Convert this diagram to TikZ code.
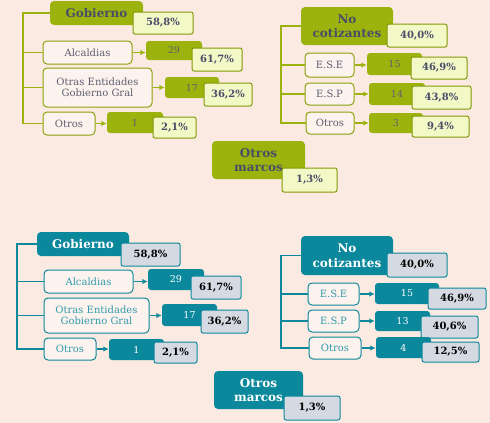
\documentclass[tikz,border=0pt]{standalone}
\usepackage{fontspec}
\setmainfont{DejaVu Serif}
\usetikzlibrary{arrows.meta}
\definecolor{bgpink}{HTML}{FBEAE1}
\definecolor{olivebox}{HTML}{9BB30C}
\definecolor{olivepale}{HTML}{F2F8C6}
\definecolor{slatetext}{HTML}{4A4D68}
\definecolor{graytext}{HTML}{5E5E70}
\definecolor{tealbox}{HTML}{0C889C}
\definecolor{tealpale}{HTML}{D5DAE2}
\definecolor{labelfill}{HTML}{FCF3EE}

\begin{document}
\begin{tikzpicture}[
  x=1pt, y=-1pt,
  ghead/.style={rounded corners=4pt,fill=olivebox,text=slatetext,align=center,inner sep=0pt,font=\fontsize{12}{14.5}\selectfont\bfseries},
  gpct/.style={rounded corners=2pt,draw=olivebox!85!black,line width=1pt,fill=olivepale,text=slatetext,inner sep=0pt,font=\fontsize{10}{11}\selectfont\bfseries},
  glabel/.style={rounded corners=4pt,draw=olivebox!90!black,line width=1pt,fill=labelfill,text=graytext,align=center,inner sep=0pt,font=\fontsize{10}{11.5}\selectfont},
  gnum/.style={rounded corners=3pt,fill=olivebox,text=graytext,inner sep=0pt,font=\fontsize{9.5}{10}\selectfont},
  glink/.style={draw=olivebox,line width=1.4pt},
  thead/.style={rounded corners=4pt,fill=tealbox,text=white,align=center,inner sep=0pt,font=\fontsize{12}{14.5}\selectfont\bfseries},
  tpct/.style={rounded corners=2pt,draw=tealbox,line width=1pt,fill=tealpale,text=black,inner sep=0pt,font=\fontsize{10}{11}\selectfont\bfseries},
  tlabel/.style={rounded corners=4pt,draw=tealbox,line width=1pt,fill=labelfill,text=tealbox!85!white,align=center,inner sep=0pt,font=\fontsize{10}{11.5}\selectfont},
  tnum/.style={rounded corners=3pt,fill=tealbox,text=white,inner sep=0pt,font=\fontsize{9.5}{10}\selectfont},
  tlink/.style={draw=tealbox,line width=1.4pt},
  tip/.style={-{Latex[length=5.5pt,width=5.5pt]}}
]
  \fill[bgpink] (0,0) rectangle (490,423);
  \useasboundingbox (0,0) rectangle (490,423);

  % olive panel, Gobierno
  \node[ghead,minimum width=93,minimum height=24] (gob) at (96.5,13) {Gobierno};
  \node[gpct,minimum width=60,minimum height=22] (gobp) at (163,23) {58,8\%};
  \node[glabel,minimum width=89,minimum height=23] (alc) at (87.5,52.5) {Alcaldias};
  \node[gnum,minimum width=56,minimum height=19] (alcn) at (174,50.5) {29};
  \node[gpct,minimum width=50,minimum height=23] (alcp) at (217,59.5) {61,7\%};
  \node[glabel,minimum width=109,minimum height=39] (ent) at (97.5,87.5) {Otras Entidades\\Gobierno Gral};
  \node[gnum,minimum width=54,minimum height=21] (entn) at (192,87.5) {17};
  \node[gpct,minimum width=48,minimum height=23] (entp) at (228,94.5) {36,2\%};
  \node[glabel,minimum width=52,minimum height=23] (oth) at (69,123.5) {Otros};
  \node[gnum,minimum width=56,minimum height=21] (othn) at (135,122.5) {1};
  \node[gpct,minimum width=43,minimum height=21] (othp) at (174.5,127.5) {2,1\%};
  \coordinate (gtr) at (23,123.5);
  \draw[glink] (gob.west) -| (gtr) -- (oth.west);
  \draw[glink] (alc.west) -- (alc.west -| gtr);
  \draw[glink] (ent.west) -- (ent.west -| gtr);
  \draw[glink,tip] (alc.east) -- (alc.east -| alcn.west);
  \draw[glink,tip] (ent.east) -- (ent.east -| entn.west);
  \draw[glink,tip] (oth.east) -- (oth.east -| othn.west);

  % olive panel, No cotizantes
  \node[ghead,minimum width=92,minimum height=38] (noc) at (347,26) {No\\cotizantes};
  \node[gpct,minimum width=60,minimum height=23] (nocp) at (417,35.5) {40,0\%};
  \node[glabel,minimum width=49,minimum height=24] (ese) at (329.5,65) {E.S.E};
  \node[gnum,minimum width=55,minimum height=22] (esen) at (394.5,64) {15};
  \node[gpct,minimum width=56,minimum height=22] (esep) at (439,68) {46,9\%};
  \node[glabel,minimum width=49,minimum height=22] (esp) at (329.5,94) {E.S.P};
  \node[gnum,minimum width=56,minimum height=22] (espn) at (397,94) {14};
  \node[gpct,minimum width=59,minimum height=23] (espp) at (441.5,97.5) {43,8\%};
  \node[glabel,minimum width=48,minimum height=22] (oto) at (330,123) {Otros};
  \node[gnum,minimum width=54,minimum height=20] (oton) at (396,123) {3};
  \node[gpct,minimum width=57,minimum height=21] (otop) at (440.5,126.5) {9,4\%};
  \coordinate (ntr) at (281,123);
  \draw[glink] (noc.west) -| (ntr) -- (oto.west);
  \draw[glink] (ese.west) -- (ese.west -| ntr);
  \draw[glink] (esp.west) -- (esp.west -| ntr);
  \draw[glink,tip] (ese.east) -- (ese.east -| esen.west);
  \draw[glink,tip] (esp.east) -- (esp.east -| espn.west);
  \draw[glink,tip] (oto.east) -- (oto.east -| oton.west);

  \node[ghead,minimum width=93,minimum height=38] (om) at (258.5,160) {Otros\\marcos};
  \node[gpct,minimum width=55,minimum height=24] (omp) at (309.5,180) {1,3\%};

  % teal panel, Gobierno
  \node[thead,minimum width=92,minimum height=24] (gob2) at (83,244) {Gobierno};
  \node[tpct,minimum width=59,minimum height=23] (gob2p) at (150.5,254.5) {58,8\%};
  \node[tlabel,minimum width=89,minimum height=23] (alc2) at (88.5,281.5) {Alcaldias};
  \node[tnum,minimum width=56,minimum height=21] (alc2n) at (176,279.5) {29};
  \node[tpct,minimum width=50,minimum height=23] (alc2p) at (216,287.5) {61,7\%};
  \node[tlabel,minimum width=105,minimum height=35] (ent2) at (96.5,315.5) {Otras Entidades\\Gobierno Gral};
  \node[tnum,minimum width=55,minimum height=22] (ent2n) at (189.5,315) {17};
  \node[tpct,minimum width=47,minimum height=23] (ent2p) at (224.5,321.5) {36,2\%};
  \node[tlabel,minimum width=52,minimum height=22] (oth2) at (70,349) {Otros};
  \node[tnum,minimum width=55,minimum height=21] (oth2n) at (136.5,349.5) {1};
  \node[tpct,minimum width=43,minimum height=21] (oth2p) at (175.5,352.5) {2,1\%};
  \coordinate (gtr2) at (17,349);
  \draw[tlink] (gob2.west) -| (gtr2) -- (oth2.west);
  \draw[tlink] (alc2.west) -- (alc2.west -| gtr2);
  \draw[tlink] (ent2.west) -- (ent2.west -| gtr2);
  \draw[tlink,tip] (alc2.east) -- (alc2.east -| alc2n.west);
  \draw[tlink,tip] (ent2.east) -- (ent2.east -| ent2n.west);
  \draw[tlink,tip] (oth2.east) -- (oth2.east -| oth2n.west);

  % teal panel, No cotizantes
  \node[thead,minimum width=92,minimum height=39] (noc2) at (347,255.5) {No\\cotizantes};
  \node[tpct,minimum width=60,minimum height=24] (noc2p) at (417,265) {40,0\%};
  \node[tlabel,minimum width=51,minimum height=22] (ese2) at (333.5,294) {E.S.E};
  \node[tnum,minimum width=64,minimum height=21] (ese2n) at (407,293.5) {15};
  \node[tpct,minimum width=58,minimum height=21] (ese2p) at (457,298.5) {46,9\%};
  \node[tlabel,minimum width=51,minimum height=22] (esp2) at (333.5,321) {E.S.P};
  \node[tnum,minimum width=55,minimum height=20] (esp2n) at (402.5,321) {13};
  \node[tpct,minimum width=57,minimum height=22] (esp2p) at (449.5,327) {40,6\%};
  \node[tlabel,minimum width=52,minimum height=22] (oto2) at (335,348) {Otros};
  \node[tnum,minimum width=55,minimum height=21] (oto2n) at (403.5,347.5) {4};
  \node[tpct,minimum width=57,minimum height=20] (oto2p) at (450.5,352) {12,5\%};
  \coordinate (ntr2) at (281,348);
  \draw[tlink] (noc2.west) -| (ntr2) -- (oto2.west);
  \draw[tlink] (ese2.west) -- (ese2.west -| ntr2);
  \draw[tlink] (esp2.west) -- (esp2.west -| ntr2);
  \draw[tlink,tip] (ese2.east) -- (ese2.east -| ese2n.west);
  \draw[tlink,tip] (esp2.east) -- (esp2.east -| esp2n.west);
  \draw[tlink,tip] (oto2.east) -- (oto2.east -| oto2n.west);

  \node[thead,minimum width=89,minimum height=38] (om2) at (258.5,390) {Otros\\marcos};
  \node[tpct,minimum width=56,minimum height=24] (om2p) at (312,408) {1,3\%};
\end{tikzpicture}
\end{document}
